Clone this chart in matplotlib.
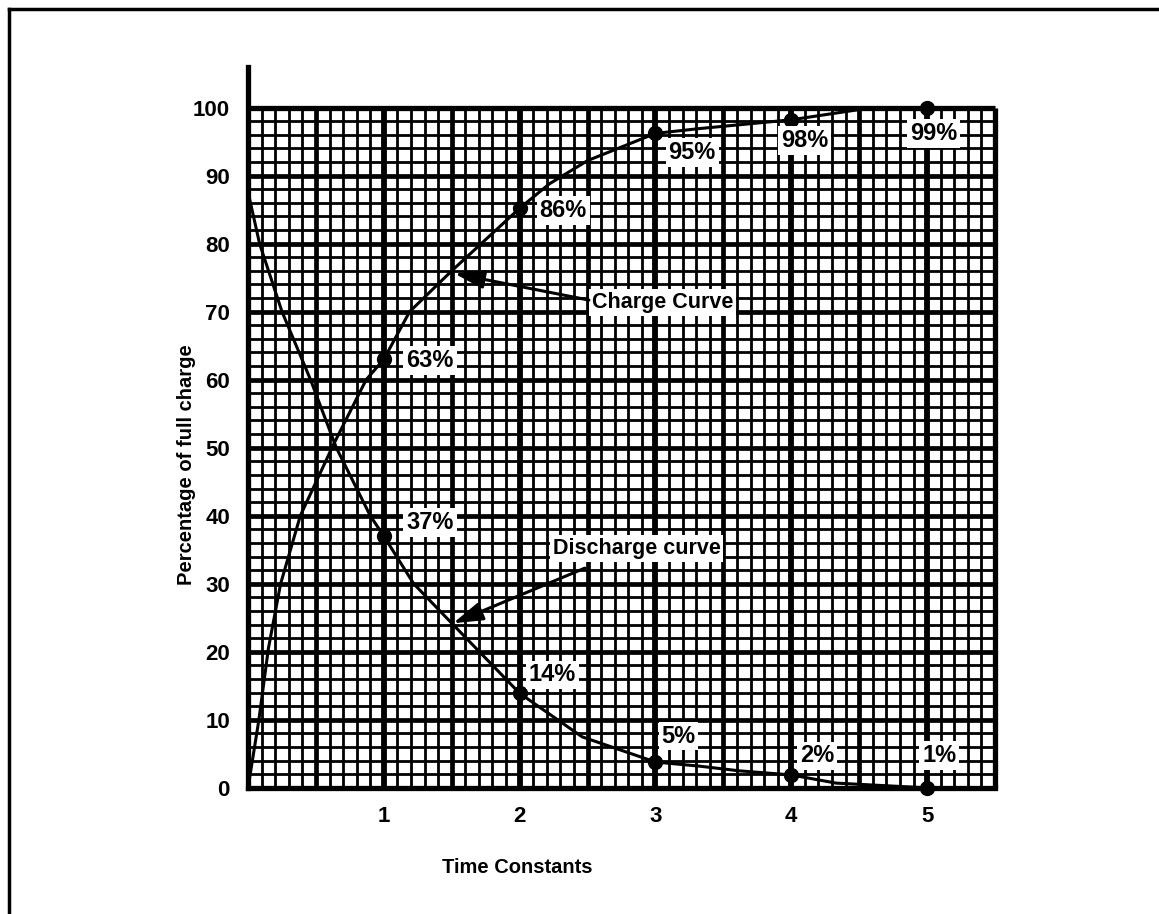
import numpy as np
import matplotlib
matplotlib.use("Agg")
import matplotlib.pyplot as plt
from matplotlib.lines import Line2D

plt.rcParams['font.family'] = ['Liberation Sans', 'DejaVu Sans']

# ---- data ----
charge_t = [0, 0.08, 0.15, 0.24, 0.385, 0.63, 0.87, 1.0, 1.19, 1.5, 2.0, 2.22, 2.5, 3.0, 3.32, 4.0, 4.5, 5.0]
charge_pct = [0, 10, 20.5, 30, 40, 50.5, 60, 63, 70, 76, 85.2, 88.8, 92.2, 96.2, 96.9, 98.2, 99.7, 100]

discharge_t = [0, 0.085, 0.25, 0.46, 0.65, 0.9, 1.0, 1.22, 1.5, 2.0, 2.46, 3.0, 3.32, 3.62, 4.0, 4.33, 5.0]
discharge_pct = [87.6, 80, 70, 60, 50, 40, 37, 30, 24.2, 13.9, 7.5, 3.8, 3.2, 2.5, 1.9, 0.7, 0]

mark_t = [1, 2, 3, 4, 5]
charge_mark = [63, 85.2, 96.2, 98.2, 100]
discharge_mark = [37, 13.9, 3.8, 1.9, 0]
charge_labels = ["63%", "86%", "95%", "98%", "99%"]
discharge_labels = ["37%", "14%", "5%", "2%", "1%"]

x_ticks = [1, 2, 3, 4, 5]
y_ticks = [0, 10, 20, 30, 40, 50, 60, 70, 80, 90, 100]

# label placement (data coords)
charge_lab_pos = [(1.34, 62.8), (2.32, 84.9), (3.27, 93.4), (4.10, 95.2), (5.05, 96.2)]
discharge_lab_pos = [(1.34, 39.0), (2.24, 16.6), (3.17, 7.6), (4.19, 4.7), (5.09, 4.8)]

fig = plt.figure(figsize=(11.59, 9.14), dpi=100)
ax = fig.add_axes([0.214, 0.138, 0.6445, 0.789])
ax.set_xlim(0, 5.5)
ax.set_ylim(0, 106)

# ---- graph paper grid ----
for x in np.round(np.arange(0.1, 5.5, 0.1), 2):
    if abs(x - round(x)) < 1e-6:
        lw = 4.2
    elif abs(x * 2 - round(x * 2)) < 1e-6:
        lw = 3.4
    else:
        lw = 2.0
    ax.vlines(x, 0, 100, color="black", lw=lw, zorder=1)
for y in range(2, 100, 2):
    lw = 3.4 if y % 10 == 0 else 2.0
    ax.hlines(y, 0, 5.5, color="black", lw=lw, zorder=1)
# top and right border of the paper
ax.hlines(100, 0, 5.5, color="black", lw=3.8, zorder=1, clip_on=False)
ax.vlines(5.5, 0, 100, color="black", lw=3.8, zorder=1, clip_on=False)

for s in ["top", "right"]:
    ax.spines[s].set_visible(False)
for s in ["left", "bottom"]:
    ax.spines[s].set_linewidth(3.8)
    ax.spines[s].set_zorder(2)

# ---- curves ----
ax.plot(charge_t, charge_pct, color="black", lw=2.2, zorder=3)
ax.plot(discharge_t, discharge_pct, color="black", lw=2.2, zorder=3)
ax.plot(mark_t, charge_mark, "o", color="black", ms=10, zorder=4, clip_on=False)
ax.plot(mark_t, discharge_mark, "o", color="black", ms=10, zorder=4, clip_on=False)

box = dict(facecolor="white", edgecolor="none", pad=2.0)
for (px, py), s in zip(charge_lab_pos, charge_labels):
    ax.text(px, py, s, ha="center", va="center", fontsize=17, fontweight="bold",
            bbox=box, zorder=5)
for (px, py), s in zip(discharge_lab_pos, discharge_labels):
    ax.text(px, py, s, ha="center", va="center", fontsize=17, fontweight="bold",
            bbox=box, zorder=5)

# ---- annotations ----
arrow = dict(arrowstyle="-|>,head_length=0.9,head_width=0.28", lw=2.2, color="black",
             mutation_scale=20, shrinkA=0, shrinkB=0)
ax.text(3.05, 71.3, "Charge Curve", ha="center", va="center", fontsize=15.5,
        fontweight="bold", bbox=box, zorder=5)
ax.annotate("", xy=(1.52, 75.6), xytext=(2.51, 71.7), arrowprops=arrow, zorder=6)
ax.text(2.86, 35.2, "Discharge curve", ha="center", va="center", fontsize=15.5,
        fontweight="bold", bbox=box, zorder=5)
ax.annotate("", xy=(1.51, 24.2), xytext=(2.48, 32.3), arrowprops=arrow, zorder=6)

# ---- axes text ----
ax.set_xticks(x_ticks)
ax.set_yticks(y_ticks)
ax.tick_params(length=0, labelsize=16, pad=13)
for lab in ax.get_xticklabels() + ax.get_yticklabels():
    lab.set_fontweight("bold")
ax.tick_params(axis="x", pad=13)

ax.set_xlabel("Time Constants", fontsize=14.5, fontweight="bold")
ax.xaxis.set_label_coords(0.361, -0.097)
ax.set_ylabel("Percentage of full charge", fontsize=14.5, fontweight="bold")
ax.yaxis.set_label_coords(-0.07, 0.448)

# page frame (top and left edge of the scan)
fig.add_artist(Line2D([0.008, 1.0], [0.990, 0.990], color="black", lw=2.5,
                      transform=fig.transFigure))
fig.add_artist(Line2D([0.008, 0.008], [0.0, 0.990], color="black", lw=2.5,
                      transform=fig.transFigure))

fig.savefig("out.png", dpi=100)
